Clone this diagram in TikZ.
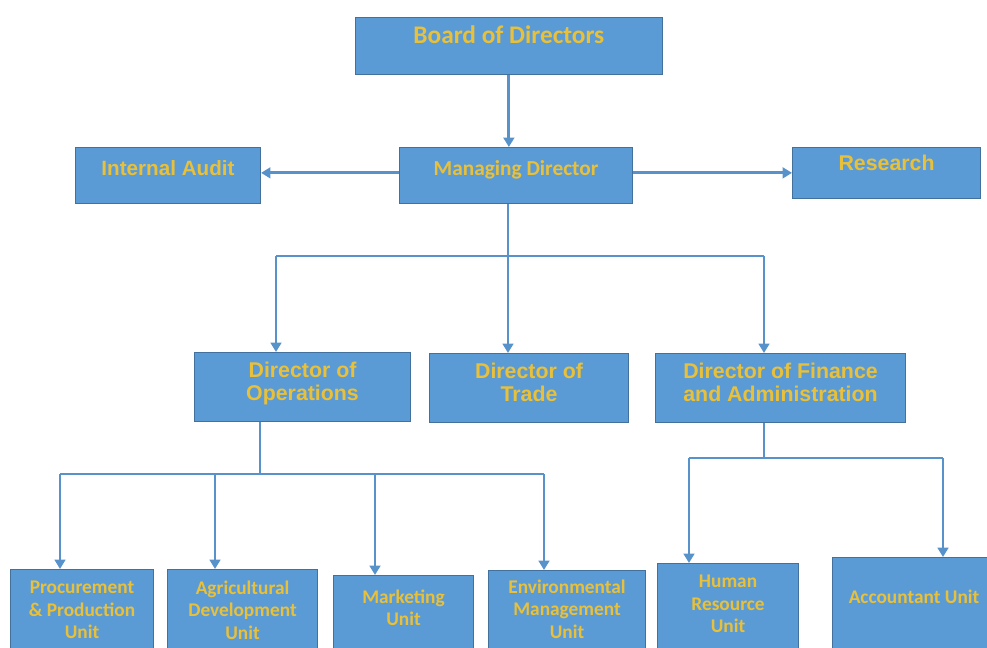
\documentclass[tikz,border=0pt]{standalone}
\usepackage{fontspec}
\setmainfont{Carlito}
\newfontfamily\arialfont{Liberation Sans}
\usetikzlibrary{arrows.meta}
\definecolor{boxblue}{RGB}{91,155,213}
\definecolor{edgeblue}{RGB}{65,113,156}
\definecolor{lineblue}{RGB}{88,146,202}
\definecolor{titlegold}{RGB}{232,192,58}
\begin{document}
\begin{tikzpicture}
		[x=0.75pt,y=-0.75pt,
		post/.style={draw=edgeblue,line width=0.8pt,fill=boxblue,text=titlegold,
			anchor=north west,align=center,inner sep=2pt},
		topbox/.style={post,font=\bfseries\fontsize{19}{22}\selectfont},
		dirbox/.style={post,font=\arialfont\bfseries\fontsize{16}{17.5}\selectfont},
		unitbox/.style={post,font=\bfseries\fontsize{14.5}{17}\selectfont},
		wire/.style={draw=lineblue,line width=2.2pt},
		feed/.style={wire,-{Triangle[width=8pt,length=7pt]}}
		]
		\clip (0,0) rectangle (987,648);
		\node[topbox,minimum width=230pt,minimum height=42.75pt,text depth=16.5pt] (board) at (355,17) {Board of Directors};
		\node[dirbox,minimum width=138.75pt,minimum height=42pt,text depth=11pt,font=\arialfont\bfseries\fontsize{15.5}{17}\selectfont] (audit) at (75,147) {Internal Audit};
		\node[topbox,minimum width=174.75pt,minimum height=42pt,text depth=11.5pt,font=\bfseries\fontsize{16}{18}\selectfont] (md) at (399,147) {Managing Director};
		\node[dirbox,minimum width=141pt,minimum height=38.25pt,text depth=15pt] (research) at (792,147) {Research};
		\node[dirbox,minimum width=162pt,minimum height=51.75pt,text depth=8.5pt] (ops) at (194,352) {Director of\\Operations};
		\node[dirbox,minimum width=149.25pt,minimum height=51.75pt,text depth=8.5pt] (trade) at (429,353) {Director of\\Trade};
		\node[dirbox,minimum width=187.5pt,minimum height=51.75pt,text depth=8.5pt] (fin) at (655,353) {Director of Finance\\and Administration};
		\node[unitbox,minimum width=107.25pt,minimum height=68.25pt,text depth=7.5pt] (proc) at (10,569) {Procurement\\\& Production\\Unit};
		\node[unitbox,minimum width=112.5pt,minimum height=68.25pt,text depth=7.5pt] (agri) at (167,569) {Agricultural\\Development\\Unit};
		\node[unitbox,minimum width=105pt,minimum height=63.75pt,text depth=15.5pt] (mkt) at (333,575) {Marketing\\Unit};
		\node[unitbox,minimum width=117.75pt,minimum height=67.5pt,text depth=9.5pt] (env) at (488,570) {Environmental\\Management\\Unit};
		\node[unitbox,minimum width=105.75pt,minimum height=72.75pt,text depth=12pt] (hr) at (657,563) {Human\\Resource\\Unit};
		\node[unitbox,minimum width=122.25pt,minimum height=77.25pt,text depth=18pt] (acc) at (832,557) {Accountant Unit};
		\coordinate (mdbus) at (508,256);
		\coordinate (opsdrop) at (276,256);
		\coordinate (findrop) at (764,256);
		\coordinate (opsbus) at (260,474);
		\coordinate (procdrop) at (60,474);
		\coordinate (agridrop) at (215,474);
		\coordinate (mktdrop) at (375,474);
		\coordinate (envdrop) at (544,474);
		\coordinate (finbus) at (764,458);
		\coordinate (hrdrop) at (689,458);
		\coordinate (accdrop) at (943,458);
		\draw[feed] (board.south) -- (board.south |- md.north);
		\draw[feed] ([yshift=2pt]md.west) -- ([yshift=2pt]audit.east);
		\draw[feed] ([yshift=2pt]md.east) -- ([yshift=2pt]md.east -| research.west);
		\draw[wire] (mdbus |- md.south) -- (mdbus);
		\draw[wire] (opsdrop) -- (findrop);
		\foreach \d/\n in {opsdrop/ops,mdbus/trade,findrop/fin}
			\draw[feed] (\d) -- (\d |- \n.north);
		\draw[wire] (opsbus |- ops.south) -- (opsbus);
		\draw[wire] (procdrop) -- (envdrop);
		\foreach \d/\n in {procdrop/proc,agridrop/agri,mktdrop/mkt,envdrop/env}
			\draw[feed] (\d) -- (\d |- \n.north);
		\draw[wire] (finbus |- fin.south) -- (finbus);
		\draw[wire] (hrdrop) -- (accdrop);
		\foreach \d/\n in {hrdrop/hr,accdrop/acc}
			\draw[feed] (\d) -- (\d |- \n.north);
	\end{tikzpicture}
\end{document}
